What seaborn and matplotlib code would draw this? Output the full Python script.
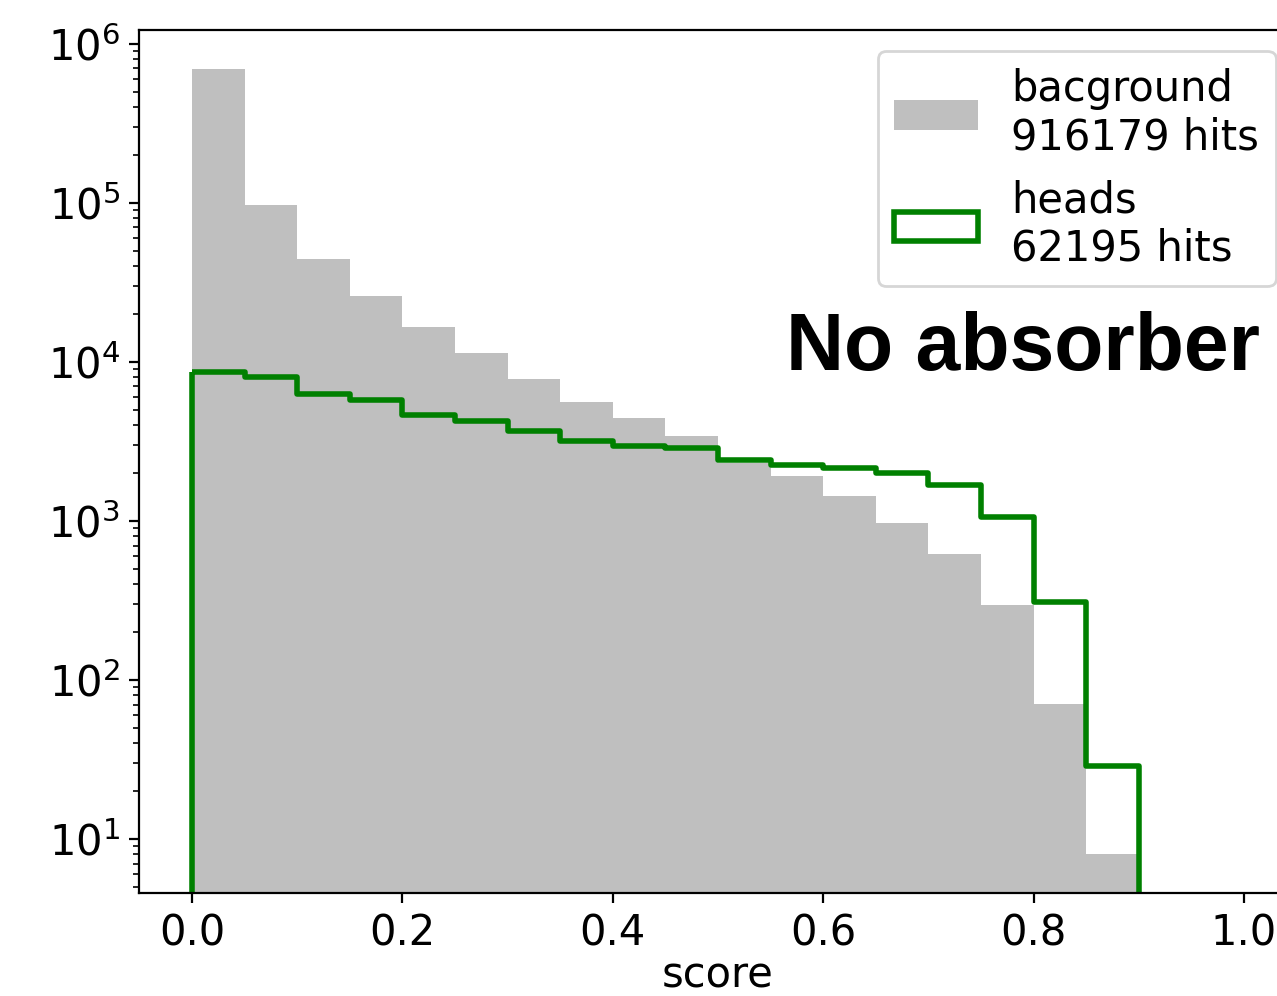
import matplotlib
matplotlib.use("Agg")
import matplotlib.pyplot as plt
from matplotlib.patches import Patch
import pandas as pd
import seaborn as sns

# Histogram bin edges on the score axis
bin_edges = [0.00, 0.05, 0.10, 0.15, 0.20, 0.25, 0.30, 0.35, 0.40, 0.45,
             0.50, 0.55, 0.60, 0.65, 0.70, 0.75, 0.80, 0.85, 0.90]

# Hits per score bin
background_counts = [692173, 96800, 44400, 25900, 16600, 11400, 7800, 5600, 4440,
                     3420, 2320, 1920, 1440, 971, 620, 296, 71, 8]
heads_counts = [8660, 8000, 6310, 5770, 4640, 4250, 3660, 3170, 2960,
                2890, 2400, 2234, 2160, 2000, 1690, 1064, 308, 29]

series_names = ["bacground", "heads"]
annotation = "No absorber"

background_color = "#bfbfbf"
heads_color = "green"

centers = [(a + b) / 2 for a, b in zip(bin_edges[:-1], bin_edges[1:])]
df = pd.DataFrame({
    "score": centers,
    "background": background_counts,
    "heads": heads_counts,
})

dpi = 200
fig = plt.figure(figsize=(1277 / dpi, 996 / dpi), dpi=dpi)
ax = fig.add_axes([0.1092, 0.1037, 0.9061, 0.8659])
ax.set_yscale("log")

sns.histplot(data=df, x="score", weights="background", bins=bin_edges,
             element="bars", fill=True, color=background_color, alpha=1.0,
             edgecolor="none", linewidth=0, ax=ax)
sns.histplot(data=df, x="score", weights="heads", bins=bin_edges,
             element="step", fill=True, color=heads_color, facecolor="none",
             edgecolor=heads_color, linewidth=2, ax=ax)

ax.set_xlim(-0.05, 1.05)
ax.set_ylim(4.6, 1.214e6)
ax.set_xlabel("score", fontsize=15, labelpad=0)
ax.set_ylabel("")
ax.tick_params(axis="both", which="major", labelsize=15)

handles = [
    Patch(facecolor=background_color, edgecolor="none"),
    Patch(facecolor="none", edgecolor=heads_color, linewidth=2),
]
labels = [
    f"{series_names[0]}\n{sum(background_counts)} hits",
    f"{series_names[1]}\n{sum(heads_counts)} hits",
]
ax.legend(handles, labels, loc="upper right", fontsize=15)

ax.text(1.015, 8900, annotation, ha="right", va="baseline",
        fontsize=29, fontweight="bold", family="Liberation Sans")

fig.savefig("out.png", dpi=dpi)
